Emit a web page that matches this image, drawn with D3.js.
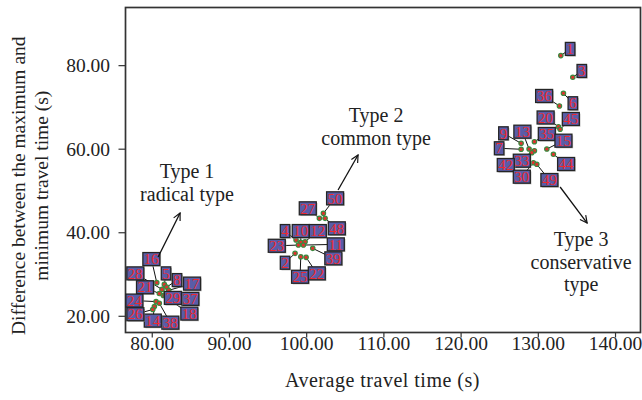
<!DOCTYPE html>
<html>
<head>
<meta charset="utf-8">
<script src="https://cdn.jsdelivr.net/npm/d3@7"></script>
<style>
  body { margin: 0; background: #fff; }
  svg { font-family: "Liberation Serif", "DejaVu Serif", serif; }
</style>
</head>
<body>
<svg width="642" height="400"></svg>
<script>
// vehicle ids, average travel time (s), max-min travel time difference (s)
var ids      = [16, 5, 8, 28, 17, 21, 18, 37, 24, 38, 14, 26, 29,
                50, 27, 48, 4, 10, 12, 11, 23, 39, 2, 25, 22,
                1, 3, 6, 36, 20, 45, 35, 9, 7, 13, 33, 42, 15, 44, 30, 49];
var avgTime  = [80.65, 81.63, 81.94, 81.33, 82.2, 80.98, 81.5, 82.72, 80.56, 80.98, 80.34, 80.13, 81.74,
                102.23, 101.71, 102.45, 98.69, 99.30, 99.86, 99.64, 98.99, 100.85, 98.56, 99.30, 99.99,
                132.98, 134.53, 133.32, 132.80, 132.67, 132.89, 129.56, 127.84, 127.84, 128.87, 129.56, 129.22, 131.17, 132.02, 129.43, 129.87];
var diffTime = [27.93, 27.52, 26.87, 26.32, 26.1, 25.32, 24.84, 24.2, 23.4, 23.0, 22.2, 21.5, 25.0,
                44.53, 43.33, 43.33, 38.13, 37.58, 37.72, 36.93, 36.93, 36.14, 34.95, 34.13, 33.99,
                82.28, 77.10, 73.27, 70.23, 65.27, 64.65, 61.68, 61.29, 59.86, 59.93, 59.52, 59.04, 59.93, 58.66, 56.65, 56.26];

var xTicks = [80, 90, 100, 110, 120, 130, 140];
var yTicks = [20, 40, 60, 80];

var groupNames = [["Type 1", "radical type"], ["Type 2", "common type"], ["Type 3", "conservative", "type"]];

// label placement (pixel offset of the id box from its point), layout only
var labelOffsets = {
  16: [-5.4, -23.6], 5: [1.7, -11], 8: [10.3, -7], 28: [-26.7, -16], 17: [23.3, -6.7],
  21: [-14.3, -6.3], 18: [26, 18], 37: [17.6, 0.6], 24: [-21.7, -1], 38: [11, 19.4],
  14: [-1.6, 14], 26: [-17.4, 4.7], 29: [7.7, 3],
  50: [11.7, -15], 27: [-11.6, -10], 48: [11.7, 10], 4: [-11, -9], 10: [0, -11.3],
  12: [12.7, -10.7], 11: [32.4, -0.7], 23: [-21.6, 0.7], 39: [20.6, 10], 2: [-10, 9.4],
  25: [-0.7, 20], 22: [10.7, 16],
  1: [9.3, -6.7], 3: [9, -6.3], 6: [9.4, 10], 36: [-15.3, -10], 20: [-12.8, -9.2],
  45: [10.7, -10.3], 35: [12.4, -7.7], 9: [-17.7, -10], 7: [-22, -1], 13: [-6.7, -17.3],
  33: [-12.6, 10], 42: [-26, 12.3], 15: [16.6, -8.3], 44: [12.7, 9.7], 30: [-11.6, 14], 49: [12.6, 15.7]
};
// annotation anchors in data units: text centre/first baseline, arrow start -> end
var noteAt    = [[84.57, 52.98], [109.05, 66.32], [135.61, 36.69]];
var arrowFrom = [[80.82, 34.06], [104.13, 50.1], [132.89, 50.83]];
var arrowTo   = [[83.67, 44.6], [106.72, 58.5], [136.39, 42.2]];

var points = ids.map(function(id, i) { return {id: id, x: avgTime[i], y: diffTime[i]}; });

var svg = d3.select("svg");
var plotLeft = 125.5, plotRight = 640.5, plotTop = 7.5, plotBottom = 332.5;

var x = d3.scaleLinear().domain([76.6, 143.3]).range([plotLeft, plotRight]);
var y = d3.scaleLinear().domain([16, 93.8]).range([plotBottom, plotTop]);

var defs = svg.append("defs");
defs.append("marker")
    .attr("id", "arrow")
    .attr("viewBox", "0 0 10 10")
    .attr("refX", 9).attr("refY", 5)
    .attr("markerWidth", 9).attr("markerHeight", 9)
    .attr("markerUnits", "userSpaceOnUse")
    .attr("orient", "auto")
  .append("path")
    .attr("d", "M1,1 L9,5 L1,9")
    .attr("fill", "none")
    .attr("stroke", "#111")
    .attr("stroke-width", 1.3);

// axes
var xAxis = svg.append("g")
    .attr("transform", "translate(0," + plotBottom + ")")
    .call(d3.axisBottom(x).tickValues(xTicks).tickFormat(d3.format(".2f")).tickSize(5).tickSizeOuter(0));
xAxis.select(".domain").remove();
xAxis.selectAll("line").attr("stroke", "#333").attr("stroke-width", 1.2);
xAxis.selectAll("text")
    .attr("y", 4.5).attr("dy", "0.66em")
    .attr("font-family", "Liberation Serif").attr("font-size", 19.5).attr("fill", "#222");

var yAxis = svg.append("g")
    .attr("transform", "translate(" + plotLeft + ",0)")
    .call(d3.axisLeft(y).tickValues(yTicks).tickFormat(d3.format(".2f")).tickSize(7).tickPadding(8.5).tickSizeOuter(0));
yAxis.select(".domain").remove();
yAxis.selectAll("line").attr("stroke", "#333").attr("stroke-width", 1.2);
yAxis.selectAll("text")
    .attr("dy", "0.33em")
    .attr("font-family", "Liberation Serif").attr("font-size", 19.5).attr("fill", "#222");

svg.append("rect")
    .attr("x", plotLeft).attr("y", plotTop)
    .attr("width", plotRight - plotLeft).attr("height", plotBottom - plotTop)
    .attr("fill", "none").attr("stroke", "#333").attr("stroke-width", 1.7);

// axis titles
svg.append("text")
    .attr("x", 382.5).attr("y", 387)
    .attr("text-anchor", "middle")
    .attr("font-size", 20).attr("letter-spacing", 0.5).attr("fill", "#222")
    .text("Average travel time (s)");

var yTitle = svg.append("text")
    .attr("transform", "translate(0,185.7) rotate(-90)")
    .attr("text-anchor", "middle")
    .attr("font-size", 19.5).attr("fill", "#222");
yTitle.append("tspan").attr("x", 0).attr("y", 25).text("Difference between the maximum and");
yTitle.append("tspan").attr("x", 0).attr("y", 48).text("minimum travel time (s)");

// leader lines
svg.append("g").selectAll("line")
  .data(points)
  .join("line")
    .attr("x1", function(d) { return x(d.x); })
    .attr("y1", function(d) { return y(d.y); })
    .attr("x2", function(d) { return x(d.x) + labelOffsets[d.id][0]; })
    .attr("y2", function(d) { return y(d.y) + labelOffsets[d.id][1]; })
    .attr("stroke", "#111").attr("stroke-width", 1);

// points
svg.append("g").selectAll("circle")
  .data(points)
  .join("circle")
    .attr("cx", function(d) { return x(d.x); })
    .attr("cy", function(d) { return y(d.y); })
    .attr("r", 2.2)
    .attr("fill", "#e0322e")
    .attr("stroke", "#3b8a40")
    .attr("stroke-width", 1.2);

// id boxes
var lab = svg.append("g").selectAll("g")
  .data(points)
  .join("g")
    .attr("transform", function(d) {
      return "translate(" + (x(d.x) + labelOffsets[d.id][0]) + "," + (y(d.y) + labelOffsets[d.id][1]) + ")";
    });

lab.each(function(d) {
  var g = d3.select(this);
  var w = String(d.id).length * 7.5 + 2, h = 13;
  g.append("rect")
      .attr("x", -w / 2 + 1.2).attr("y", -h / 2 + 1.2)
      .attr("width", w).attr("height", h)
      .attr("fill", "#9a9a9a").attr("opacity", 0.6);
  g.append("rect")
      .attr("x", -w / 2).attr("y", -h / 2)
      .attr("width", w).attr("height", h)
      .attr("fill", "#5a5ca8")
      .attr("stroke", "#252525").attr("stroke-width", 1.3);
  g.append("text")
      .attr("text-anchor", "middle")
      .attr("y", 5.2)
      .attr("font-size", 15)
      .attr("fill", "#ee2a2f")
      .text(d.id);
});

// group annotations
groupNames.forEach(function(lines, i) {
  var t = svg.append("text")
      .attr("text-anchor", "middle")
      .attr("font-size", 20).attr("fill", "#222");
  lines.forEach(function(s, j) {
    t.append("tspan")
        .attr("x", x(noteAt[i][0]))
        .attr("y", y(noteAt[i][1]) + j * 22.5)
        .text(s);
  });
  svg.append("line")
      .attr("x1", x(arrowFrom[i][0])).attr("y1", y(arrowFrom[i][1]))
      .attr("x2", x(arrowTo[i][0])).attr("y2", y(arrowTo[i][1]))
      .attr("stroke", "#111").attr("stroke-width", 1.3)
      .attr("marker-end", "url(#arrow)");
});
</script>
</body>
</html>
